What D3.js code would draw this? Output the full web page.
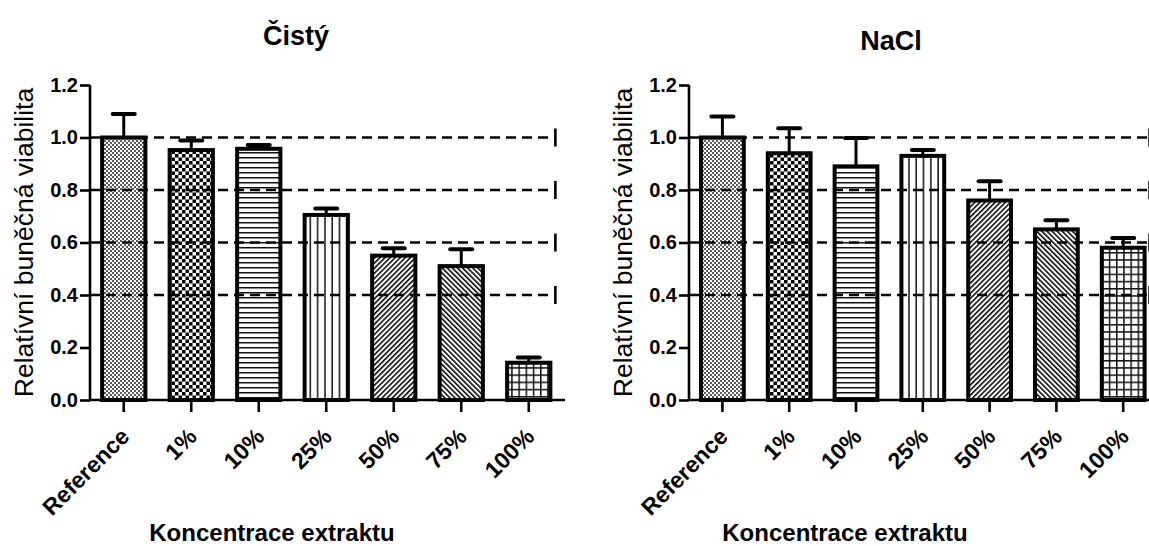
<!DOCTYPE html>
<html>
<head>
<meta charset="utf-8">
<script src="https://cdn.jsdelivr.net/npm/d3@7"></script>
<style>
  html, body { margin: 0; padding: 0; background: #fff; }
  svg { display: block; font-family: Arial, "Liberation Sans", Helvetica, sans-serif; }
</style>
</head>
<body>
<svg id="chart" width="1149" height="546"></svg>
<script>
// Concentrations of the extract (x categories)
const categories = ["Reference", "1%", "10%", "25%", "50%", "75%", "100%"];

// Relative cell viability, pure extract
const pureMeans = [1.00, 0.952, 0.957, 0.705, 0.550, 0.510, 0.142];
const pureErrors = [0.090, 0.037, 0.014, 0.025, 0.028, 0.064, 0.020];

// Relative cell viability, extract in NaCl
const naclMeans = [1.00, 0.940, 0.890, 0.930, 0.760, 0.650, 0.580];
const naclErrors = [0.080, 0.095, 0.108, 0.022, 0.073, 0.035, 0.037];

const yTicks = [0, 0.2, 0.4, 0.6, 0.8, 1.0, 1.2];
const refLines = [0.4, 0.6, 0.8, 1.0];
const patternIds = ["p-ref", "p-check", "p-hline", "p-vline", "p-diag-up", "p-diag-down", "p-grid"];

const svg = d3.select("#chart");
const defs = svg.append("defs");

// Fill patterns for the bars
function pattern(id, w, h, extra) {
  const p = defs.append("pattern")
    .attr("id", id).attr("patternUnits", "userSpaceOnUse")
    .attr("width", w).attr("height", h);
  if (extra) p.attr("patternTransform", extra);
  p.append("rect").attr("width", w).attr("height", h).attr("fill", "#fff");
  return p;
}
{
  const p = pattern("p-ref", 4, 4);
  p.append("rect").attr("x", 0).attr("y", 0).attr("width", 2).attr("height", 2).attr("fill", "#5a5a5a");
  p.append("rect").attr("x", 2).attr("y", 2).attr("width", 2).attr("height", 2).attr("fill", "#5a5a5a");
}
{
  const p = pattern("p-check", 7, 7);
  p.append("rect").attr("x", 0).attr("y", 0).attr("width", 3.5).attr("height", 3.5).attr("fill", "#000");
  p.append("rect").attr("x", 3.5).attr("y", 3.5).attr("width", 3.5).attr("height", 3.5).attr("fill", "#000");
}
{
  const p = pattern("p-hline", 10, 5);
  p.append("rect").attr("x", 0).attr("y", 2).attr("width", 10).attr("height", 1.5).attr("fill", "#111");
}
{
  const p = pattern("p-vline", 7.3, 10);
  p.append("rect").attr("x", 3).attr("y", 0).attr("width", 1.5).attr("height", 10).attr("fill", "#111");
}
{
  const p = pattern("p-diag-up", 3.6, 10, "rotate(45)");
  p.append("rect").attr("x", 0).attr("y", 0).attr("width", 1.5).attr("height", 10).attr("fill", "#000");
}
{
  const p = pattern("p-diag-down", 3.6, 10, "rotate(-45)");
  p.append("rect").attr("x", 0).attr("y", 0).attr("width", 1.5).attr("height", 10).attr("fill", "#000");
}
{
  const p = pattern("p-grid", 7.2, 7.2);
  p.append("rect").attr("x", 0).attr("y", 0).attr("width", 7.2).attr("height", 1.5).attr("fill", "#111");
  p.append("rect").attr("x", 0).attr("y", 0).attr("width", 1.5).attr("height", 7.2).attr("fill", "#111");
}

const y = d3.scaleLinear().domain([0, 1.2]).range([400, 85]);

function panel(cfg) {
  const g = svg.append("g");
  const x = d3.scaleBand().domain(categories)
    .range([cfg.x0, cfg.x0 + 7 * cfg.step])
    .paddingInner(0.3).paddingOuter(0.15);
  const stroke = 4;
  const bw = x.bandwidth() - stroke;

  // bars
  g.selectAll("rect.bar").data(categories).join("rect")
    .attr("class", "bar")
    .attr("x", d => x(d) + stroke / 2)
    .attr("y", (d, i) => y(cfg.means[i]))
    .attr("width", bw)
    .attr("height", (d, i) => y(0) - y(cfg.means[i]))
    .attr("fill", (d, i) => `url(#${patternIds[i]})`)
    .attr("stroke", "#000").attr("stroke-width", stroke);

  // error bars (upper side only)
  const cx = d => x(d) + x.bandwidth() / 2;
  g.selectAll("line.err").data(categories).join("line")
    .attr("x1", cx).attr("x2", cx)
    .attr("y1", (d, i) => y(cfg.means[i]))
    .attr("y2", (d, i) => y(cfg.means[i] + cfg.errors[i]))
    .attr("stroke", "#000").attr("stroke-width", 3);
  g.selectAll("line.cap").data(categories).join("line")
    .attr("x1", d => cx(d) - 11).attr("x2", d => cx(d) + 11)
    .attr("y1", (d, i) => y(cfg.means[i] + cfg.errors[i]))
    .attr("y2", (d, i) => y(cfg.means[i] + cfg.errors[i]))
    .attr("stroke", "#000").attr("stroke-width", 4).attr("stroke-linecap", "round");

  // dashed reference lines with end marks
  const xEnd = x(categories[6]) + x.bandwidth() + 3;
  g.selectAll("line.ref").data(refLines).join("line")
    .attr("x1", cfg.x0).attr("x2", xEnd)
    .attr("y1", d => y(d)).attr("y2", d => y(d))
    .attr("stroke", "#000").attr("stroke-width", 2.6)
    .attr("stroke-dasharray", "10,6");
  g.selectAll("line.refend").data(refLines).join("line")
    .attr("x1", xEnd).attr("x2", xEnd)
    .attr("y1", d => y(d) - 9).attr("y2", d => y(d) + 9)
    .attr("stroke", "#000").attr("stroke-width", 2.6);

  // y axis
  const yAxis = g.append("g").attr("transform", `translate(${cfg.x0},0)`)
    .call(d3.axisLeft(y).tickValues(yTicks).tickFormat(d3.format(".1f")).tickSize(10).tickPadding(2).tickSizeOuter(0));
  yAxis.select(".domain").attr("stroke-width", 2.6).attr("d", `M0,${y(1.2)}V${y(0)}`);
  yAxis.selectAll(".tick line").attr("stroke-width", 2.6);
  yAxis.selectAll(".tick text").attr("font-size", 20).attr("font-weight", "bold")
    .attr("fill", "#000").attr("font-family", "Arial, 'Liberation Sans', sans-serif");

  // x axis
  const xAxis = g.append("g").attr("transform", `translate(0,${y(0)})`)
    .call(d3.axisBottom(x).tickSize(12).tickSizeOuter(0));
  xAxis.select(".domain").attr("stroke-width", 2.6)
    .attr("d", `M${cfg.x0},0H${cfg.x0 + 7 * cfg.step + 2.5}`);
  xAxis.selectAll(".tick line").attr("stroke-width", 2.6);
  xAxis.selectAll(".tick text")
    .attr("font-size", 23).attr("font-weight", "bold").attr("fill", "#000")
    .attr("font-family", "Arial, 'Liberation Sans', sans-serif")
    .attr("text-anchor", "end")
    .attr("dy", null).attr("y", null)
    .attr("transform", "translate(7,38) rotate(-45)");

  // titles
  g.append("text").attr("x", cfg.titleX).attr("y", cfg.titleY)
    .attr("text-anchor", "middle").attr("font-size", 27).attr("font-weight", "bold")
    .text(cfg.title);
  g.append("text").attr("x", cfg.xTitleX).attr("y", 541)
    .attr("text-anchor", "middle").attr("font-size", 24).attr("font-weight", "bold")
    .text("Koncentrace extraktu");
  g.append("text")
    .attr("transform", `translate(${cfg.yTitleX},${(y(1.2) + y(0)) / 2}) rotate(-90)`)
    .attr("text-anchor", "middle").attr("font-size", 26.5)
    .text("Relatívní buněčná viabilita");
}

panel({ x0: 90, step: 67.5, means: pureMeans, errors: pureErrors,
        title: "Čistý", titleX: 296, titleY: 45, xTitleX: 272, yTitleX: 33 });
panel({ x0: 689, step: 66.8, means: naclMeans, errors: naclErrors,
        title: "NaCl", titleX: 891, titleY: 50, xTitleX: 845, yTitleX: 632 });
</script>
</body>
</html>
